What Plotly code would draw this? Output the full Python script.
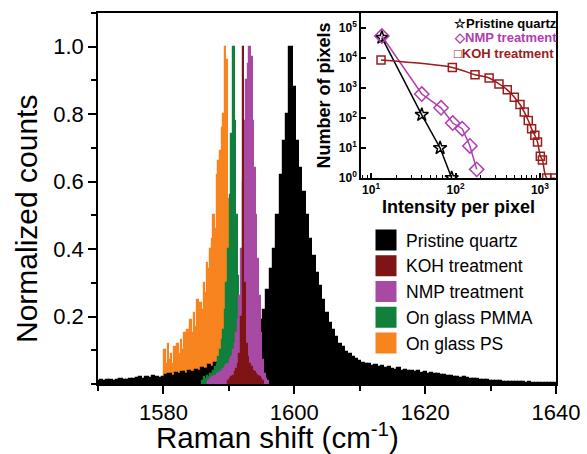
import plotly.graph_objects as go

# ---------------- main histogram data (normalized counts) ----------------
black_start, black_bin = 1570.0, 0.5
pristine_counts = [
    0.010, 0.012, 0.009, 0.011, 0.013, 0.010, 0.012, 0.014, 0.011, 0.013, 0.015,
    0.014, 0.017, 0.020, 0.016, 0.022, 0.019, 0.024, 0.021, 0.018, 0.022,
    0.026, 0.030, 0.025, 0.033, 0.029, 0.036, 0.031, 0.040, 0.035, 0.042,
    0.038, 0.047, 0.044, 0.055, 0.050, 0.062, 0.057, 0.070, 0.064, 0.078,
    0.072, 0.085, 0.080, 0.095, 0.105, 0.120, 0.135, 0.150, 0.170, 0.190,
    0.220, 0.280, 0.340, 0.400, 0.500, 0.620, 0.720, 0.800, 1.000, 0.880,
    0.720, 0.640, 0.570, 0.500, 0.430, 0.380, 0.330, 0.290, 0.250, 0.210,
    0.180, 0.160, 0.140, 0.120, 0.110, 0.095, 0.088, 0.080, 0.075, 0.068,
    0.062, 0.058, 0.060, 0.054, 0.056, 0.050, 0.052, 0.047, 0.049, 0.045,
    0.043, 0.046, 0.040, 0.042, 0.038, 0.040, 0.036, 0.038, 0.034, 0.035,
    0.031, 0.033, 0.029, 0.030, 0.026, 0.028, 0.024, 0.025, 0.022, 0.021,
    0.019, 0.020, 0.017, 0.016, 0.015, 0.014, 0.012, 0.013, 0.011, 0.010,
    0.009, 0.008, 0.009, 0.007, 0.007, 0.006, 0.006, 0.005, 0.006, 0.005,
    0.004, 0.005, 0.004, 0.004, 0.003, 0.004, 0.003, 0.003, 0.003, 0.002,
]

fine_bin = 0.25
ps_start = 1580.25
ps_counts = [
    0.10, 0.06, 0.12, 0.07, 0.09, 0.06, 0.11, 0.08, 0.12, 0.09,
    0.13, 0.10, 0.15, 0.11, 0.16, 0.13, 0.19, 0.15, 0.21, 0.17,
    0.25, 0.20, 0.24, 0.22, 0.30, 0.27, 0.36, 0.34, 0.40, 0.43,
    0.50, 0.46, 0.62, 0.66, 0.69, 0.76, 0.80, 1.00, 0.96, 0.55, 0.20,
]

pmma_start = 1586.0
pmma_counts = [
    0.010, 0.020, 0.015, 0.025, 0.020, 0.030, 0.030, 0.040, 0.050, 0.060,
    0.080, 0.100, 0.130, 0.160, 0.220, 0.300, 0.400, 0.560, 0.740, 1.000,
    0.780, 0.500, 0.320, 0.200, 0.120, 0.080, 0.050, 0.030, 0.020,
]

nmp_start = 1587.0
nmp_counts = [
    0.010, 0.015, 0.020, 0.020, 0.025, 0.030, 0.030, 0.035, 0.040, 0.045,
    0.050, 0.055, 0.060, 0.070, 0.080, 0.100, 0.120, 0.150, 0.190, 0.260,
    0.400, 0.600, 0.780, 0.900, 0.950, 1.000, 0.970, 0.780, 0.640, 0.500,
    0.370, 0.260, 0.150, 0.070, 0.030, 0.015, 0.010,
]

koh_start = 1590.0
koh_counts = [
    0.010, 0.015, 0.020, 0.025, 0.035, 0.045, 0.060, 0.090, 0.200, 1.000,
    0.300, 0.120, 0.080, 0.060, 0.050, 0.040, 0.035, 0.030, 0.025, 0.020,
    0.015, 0.010,
]

# ---------------- inset data ----------------
pristine_int = [13.4, 39.8, 65.6, 90.0]
pristine_pix = [4.8e4, 128, 10, 1]
nmp_int = [13.4, 39.8, 67.3, 92.6, 120, 148, 178]
nmp_pix = [5.4e4, 630, 219, 68, 44, 11.7, 1.94]
koh_int = [13.1, 91.6, 170, 250, 327, 410, 497, 580, 652, 727, 796, 870, 935,
           1010, 1070, 1200, 1500]
koh_pix = [8500, 4850, 2770, 2150, 1365, 870, 493, 282, 157, 83, 44, 26.5, 16,
           5.3, 4.0, 1.0, 1.0]

legend_labels = ["Pristine quartz", "KOH treatment", "NMP treatment",
                 "On glass PMMA", "On glass PS"]
inset_labels = ["Pristine quartz", "NMP treatment", "KOH treatment"]
inset_symbols = ["\u2606", "\u25c7", "\u25a1"]
x_ticks = [1580, 1600, 1620, 1640]
y_ticks = [0.2, 0.4, 0.6, 0.8, 1.0]
x_title = "Raman shift (cm<sup>-1</sup>)"
y_title = "Normalized counts"

C_BLACK = "#000000"
C_KOH = "#7e1416"
C_NMP = "#a84aa4"
C_PMMA = "#11803c"
C_PS = "#f7841f"
C_NMP_IN = "#b23cb0"
C_KOH_IN = "#9a1c1c"

FONT = "Arial, Liberation Sans, sans-serif"


def centers(start, step, n):
    return [start + step * i for i in range(n)]


fig = go.Figure()

bar_series = [
    ("On glass PS", ps_start, fine_bin, ps_counts, C_PS),
    ("Pristine quartz", black_start, black_bin, pristine_counts, C_BLACK),
    ("On glass PMMA", pmma_start, fine_bin, pmma_counts, C_PMMA),
    ("NMP treatment", nmp_start, fine_bin, nmp_counts, C_NMP),
    ("KOH treatment", koh_start, fine_bin, koh_counts, C_KOH),
]
for name, st, w, vals, col in bar_series:
    fig.add_trace(go.Bar(
        x=centers(st, w, len(vals)), y=vals, width=w, name=name,
        marker=dict(color=col, line=dict(width=1.2, color=col)),
        showlegend=False, xaxis="x", yaxis="y",
    ))

legend_colors = [C_BLACK, C_KOH, C_NMP, C_PMMA, C_PS]
for lab, col in zip(legend_labels, legend_colors):
    fig.add_trace(go.Scatter(
        x=[None], y=[None], mode="markers", name=lab,
        marker=dict(symbol="square", size=16, color=col,
                    line=dict(color=col, width=5)),
        xaxis="x", yaxis="y",
    ))

# inset traces
fig.add_trace(go.Scatter(
    x=pristine_int, y=pristine_pix, mode="lines+markers", name="Pristine quartz",
    line=dict(color=C_BLACK, width=1.5),
    marker=dict(symbol="star-open", size=10, color=C_BLACK, line=dict(width=1.5)),
    xaxis="x2", yaxis="y2", showlegend=False,
))
fig.add_trace(go.Scatter(
    x=nmp_int, y=nmp_pix, mode="lines+markers", name="NMP treatment",
    line=dict(color=C_NMP_IN, width=1.5),
    marker=dict(symbol="diamond-open", size=11, color=C_NMP_IN, line=dict(width=1.5)),
    xaxis="x2", yaxis="y2", showlegend=False,
))
fig.add_trace(go.Scatter(
    x=koh_int, y=koh_pix, mode="lines+markers", name="KOH treatment",
    line=dict(color=C_KOH_IN, width=1.5, shape="spline", smoothing=0.8),
    marker=dict(symbol="square-open", size=8, color=C_KOH_IN, line=dict(width=1.5)),
    xaxis="x2", yaxis="y2", showlegend=False,
))

W, H = 587, 454
plot_left, plot_right, plot_top, plot_bottom = 98, 556, 13, 384
ml, mt = plot_left, plot_top
mr, mb = W - plot_right, H - plot_bottom
pw, ph = W - ml - mr, H - mt - mb


def px_x(p):
    return (p - ml) / pw


def px_y(p):
    return (H - mb - p) / ph


# inset legend (coloured labels with marker glyphs)
inset_colors = [C_BLACK, C_NMP_IN, C_KOH_IN]
inset_rows = [23, 38, 53]
for lab, sym, col, row in zip(inset_labels, inset_symbols, inset_colors, inset_rows):
    fig.add_annotation(
        xref="paper", yref="paper", x=px_x(452), y=px_y(row),
        xanchor="left", yanchor="middle", showarrow=False,
        text="<b>%s%s</b>" % (sym, lab),
        font=dict(size=13, family=FONT, color=col),
    )

# main axis titles (placed like the original, off-centre)
fig.add_annotation(
    xref="paper", yref="paper", x=px_x(277), y=px_y(435),
    xanchor="center", yanchor="middle", showarrow=False,
    text=x_title, font=dict(size=29.5, family=FONT, color="black"),
)
fig.add_annotation(
    xref="paper", yref="paper", x=px_x(26), y=px_y(219),
    xanchor="center", yanchor="middle", showarrow=False, textangle=-90,
    text=y_title, font=dict(size=30, family=FONT, color="black"),
)

fig.update_layout(
    template="none",
    width=W, height=H,
    margin=dict(l=ml, r=mr, t=mt, b=mb, pad=0),
    paper_bgcolor="white", plot_bgcolor="white",
    font=dict(family=FONT, color="black"),
    barmode="overlay", bargap=0,
    xaxis=dict(
        domain=[0, 1], range=[1570, 1640], tickmode="array", tickvals=x_ticks,
        automargin=False,
        ticks="outside", ticklen=8, tickwidth=1.5, tickcolor="black",
        minor=dict(dtick=10, tick0=1570, ticks="outside", ticklen=5,
                   tickwidth=1.5, tickcolor="black"),
        showline=True, linecolor="black", linewidth=1.5, mirror=True,
        showgrid=False, zeroline=False,
        tickfont=dict(size=22, family=FONT),
    ),
    yaxis=dict(
        domain=[0, 1], range=[0, 1.1], tickmode="array", tickvals=y_ticks,
        ticktext=["%.1f" % v for v in y_ticks],
        automargin=False,
        ticks="outside", ticklen=8, tickwidth=1.5, tickcolor="black",
        minor=dict(dtick=0.1, tick0=0, ticks="outside", ticklen=5,
                   tickwidth=1.5, tickcolor="black"),
        showline=True, linecolor="black", linewidth=1.5, mirror=True,
        showgrid=False, zeroline=False,
        tickfont=dict(size=22, family=FONT),
    ),
    xaxis2=dict(
        domain=[px_x(361), 1], anchor="y2", type="log",
        range=[0.88, 3.19], tickmode="array", tickvals=[10, 100, 1000],
        ticktext=["<b>10<sup>1</sup></b>", "<b>10<sup>2</sup></b>",
                  "<b>10<sup>3</sup></b>"],
        automargin=False,
        ticks="inside", ticklen=5, tickwidth=1.5, tickcolor="black",
        minor=dict(dtick="D1", ticks="inside", ticklen=3, tickwidth=1,
                   tickcolor="black"),
        showline=True, linecolor="black", linewidth=1.5, mirror=True,
        showgrid=False, zeroline=False,
        tickfont=dict(size=12, family=FONT),
        title=dict(text="<b>Intensity per pixel</b>",
                   font=dict(size=18, family=FONT), standoff=2),
    ),
    yaxis2=dict(
        domain=[px_y(178), 1], anchor="x2", type="log",
        range=[0, 5.5], tickmode="array",
        tickvals=[1, 10, 100, 1000, 1e4, 1e5],
        ticktext=["<b>10<sup>%d</sup></b>" % i for i in range(6)],
        automargin=False,
        ticks="inside", ticklen=5, tickwidth=1.5, tickcolor="black",
        showline=True, linecolor="black", linewidth=1.5, mirror=True,
        showgrid=False, zeroline=False,
        tickfont=dict(size=12, family=FONT),
        title=dict(text="<b>Number of pixels</b>",
                   font=dict(size=18, family=FONT), standoff=4),
    ),
    showlegend=True,
    legend=dict(
        x=px_x(366), y=px_y(222), xanchor="left", yanchor="top",
        bgcolor="rgba(0,0,0,0)", borderwidth=0,
        font=dict(size=17.5, family=FONT, color="black"),
        itemwidth=30, tracegroupgap=0,
    ),
)

fig.write_html("out.html", config={"displayModeBar": False},
               post_script="document.body.style.margin='0';")
